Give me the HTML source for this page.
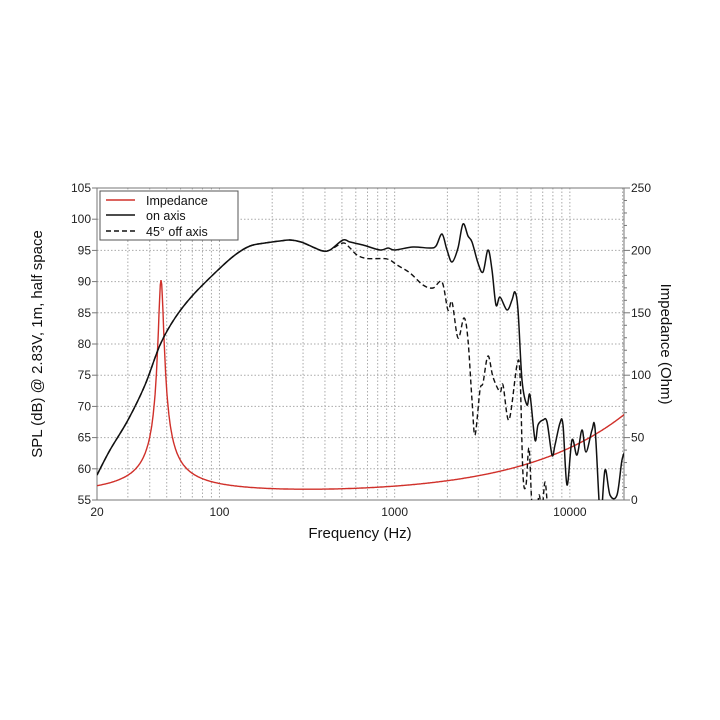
<!DOCTYPE html>
<html><head><meta charset="utf-8"><style>
body{margin:0;background:#fff;}
svg{display:block;font-family:"Liberation Sans",sans-serif;}
</style></head><body>
<svg id="s" width="720" height="720" viewBox="0 0 720 720">
<defs><clipPath id="c"><rect x="97" y="188" width="527" height="312"/></clipPath></defs>
<g id="grid" stroke="#aaa" stroke-width="1" stroke-dasharray="1.5,2"></g>
<rect x="97" y="188" width="527" height="312" fill="none" stroke="#777" stroke-width="1"/>
<g id="ticks" stroke="#777"></g>
<g id="lbl" font-size="12" fill="#222"></g>
<g clip-path="url(#c)">
<path id="imp" fill="none" stroke="#d0302a" stroke-width="1.4"/>
<path id="dsh" fill="none" stroke="#111" stroke-width="1.4" stroke-dasharray="5,3"/>
<path id="sol" fill="none" stroke="#111" stroke-width="1.5"/>
</g>
<rect x="100" y="191" width="138" height="49" fill="#fff" stroke="#555" stroke-width="1"/>
<line x1="106" y1="200" x2="135" y2="200" stroke="#d0302a" stroke-width="1.4"/>
<line x1="106" y1="215" x2="135" y2="215" stroke="#111" stroke-width="1.5"/>
<line x1="106" y1="231" x2="135" y2="231" stroke="#111" stroke-width="1.4" stroke-dasharray="5,3"/>
<text x="146" y="205" font-size="12.5" fill="#111">Impedance</text>
<text x="146" y="220" font-size="12.5" fill="#111">on axis</text>
<text x="146" y="236" font-size="12.5" fill="#111">45° off axis</text>
<text x="360" y="538" font-size="15" text-anchor="middle" fill="#111">Frequency (Hz)</text>
<text transform="translate(42,344) rotate(-90)" font-size="15" text-anchor="middle" fill="#111">SPL (dB) @ 2.83V, 1m, half space</text>
<text transform="translate(661,344) rotate(90)" font-size="15" text-anchor="middle" fill="#111">Impedance (Ohm)</text>
</svg>
<script>
var NS="http://www.w3.org/2000/svg";
function X(f){return 97+(Math.log10(f)-Math.log10(20))*175.2;}
function el(p,t,a,txt){var e=document.createElementNS(NS,t);for(var k in a)e.setAttribute(k,a[k]);if(txt!==undefined)e.textContent=txt;document.getElementById(p).appendChild(e);}
var fs=[];for(var d=10;d<=10000;d*=10)for(var m=1;m<10;m++){var f=d*m;if(f>20&&f<20500)fs.push(f);}
fs.forEach(function(f){var x=X(f);el("grid","line",{x1:x,y1:188,x2:x,y2:500});});
for(var i=1;i<10;i++){var y=188+i*31.2;el("grid","line",{x1:97,y1:y,x2:624,y2:y});}
for(var i=0;i<=10;i++){var y=500-i*31.2;el("lbl","text",{x:91,y:y+4,"text-anchor":"end"},String(55+5*i));
 el("ticks","line",{x1:92,y1:y,x2:97,y2:y});}
for(var i=0;i<=5;i++){var y=500-i*62.4;el("lbl","text",{x:631,y:y+4},String(50*i));}
for(var i=0;i<=25;i++){var y=500-i*12.48;el("ticks","line",{x1:624,y1:y,x2:i%5==0?630:627,y2:y});}
[[20,"20"],[100,"100"],[1000,"1000"],[10000,"10000"]].forEach(function(a){el("lbl","text",{x:X(a[0]),y:516,"text-anchor":"middle"},a[1]);});
var d="";for(var i=0;i<=800;i++){var lf=Math.log10(20)+i/800*(Math.log10(20600)-Math.log10(20));var f=Math.pow(10,lf);
var z=3.5+172/Math.sqrt(1+Math.pow(12*(f/46.4-46.4/f),2))+0.042*Math.pow(f,0.74);
var y=500-z*1.248;d+=(i?"L":"M")+X(f).toFixed(1)+","+y.toFixed(1);}
document.getElementById("imp").setAttribute("d",d);
function cr(p){var s="M"+p[0][0]+","+p[0][1];for(var i=0;i<p.length-1;i++){var p0=p[i-1]||p[i],p1=p[i],p2=p[i+1],p3=p[i+2]||p2;
s+="C"+(p1[0]+(p2[0]-p0[0])/6).toFixed(1)+","+(p1[1]+(p2[1]-p0[1])/6).toFixed(1)+" "+(p2[0]-(p3[0]-p1[0])/6).toFixed(1)+","+(p2[1]-(p3[1]-p1[1])/6).toFixed(1)+" "+p2[0]+","+p2[1];}return s;}
var base=[[97,475],[110,450],[128,420],[145,385],[160,345],[175,318],[193,295],[218,270],[235,255],[250,246],[265,243],[280,241],[290,240],[301,242],[315,248],[323,251],[330,250]];
var sol=base.concat([[343,240],[350,242],[363,245],[380,250],[388,248],[395,250],[413,247],[430,248],[436,246],[442,234],[447,250],[452,262],[458,248],[463,224],[468,236],[472,242],[478,263],[483,272],[488,250],[492,270],[496,305],[500,297],[507,310],[512,300],[515,292],[518,310],[522,380],[527,405],[530,395],[535,440],[538,425],[543,420],[547,422],[552,455],[555,445],[560,423],[563,425],[567,485],[572,440],[577,455],[582,430],[586,452],[592,430],[595,428],[599,500],[601,520],[605,470],[610,495],[617,495],[622,460],[626,450]]);
var dsh=base.concat([[343,243],[350,248],[357,255],[367,258.5],[387,259],[397,265],[410,273],[423,285],[433,288],[442,282],[448,310],[452,302],[458,338],[464,318],[468,340],[472,400],[475,435],[480,390],[483,383],[488,356],[493,377],[500,392],[503,385],[509,420],[517,365],[520,375],[523,475],[526,485],[529,448],[532,505],[536,520],[539,495],[542,510],[545,482],[548,510],[552,530],[624,540]]);
document.getElementById("sol").setAttribute("d",cr(sol));
document.getElementById("dsh").setAttribute("d",cr(dsh));
</script>
</body></html>
